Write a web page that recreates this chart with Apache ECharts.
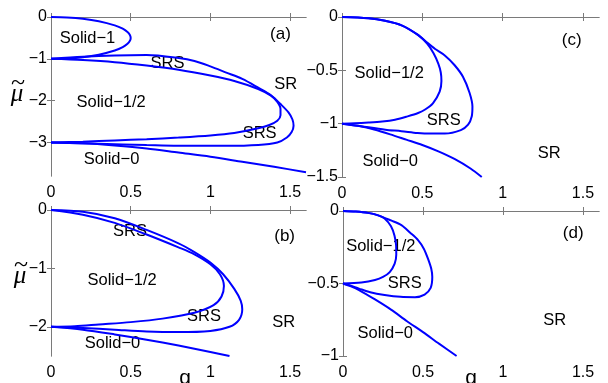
<!DOCTYPE html>
<html><head><meta charset="utf-8">
<script src="https://cdn.jsdelivr.net/npm/echarts@6/dist/echarts.min.js"></script>
<style>html,body{margin:0;padding:0;background:#fff}#c{width:608px;height:383px}</style>
</head><body><div id="c"></div>
<script>
// ---------- tick labels ----------
const xTicks = [0, 0.5, 1, 1.5];
const yTicksA = [0, -1, -2, -3];
const yTicksC = [0, -0.5, -1, -1.5];
const yTicksB = [0, -1, -2];
const yTicksD = [0, -0.5, -1];

// ---------- panel (a) : [g, mu] ----------
const aSolid1 = [[0,0],[0.1,-0.01],[0.2,-0.04],[0.3,-0.1],[0.4,-0.2],[0.45,-0.28],[0.48,-0.36],[0.495,-0.43],[0.5,-0.5],[0.495,-0.57],[0.48,-0.64],[0.45,-0.72],[0.4,-0.8],[0.3,-0.9],[0.2,-0.96],[0.1,-0.99],[0,-1]];
const aInner = [[0,-1],[0.2,-1.03],[0.4,-1.08],[0.6,-1.16],[0.8,-1.26],[1.0,-1.40],[1.15,-1.53],[1.3,-1.72],[1.38,-1.88],[1.42,-2.03],[1.44,-2.2],[1.44,-2.35],[1.42,-2.48],[1.37,-2.58],[1.3,-2.66],[1.15,-2.77],[1.0,-2.83],[0.8,-2.88],[0.6,-2.92],[0.4,-2.95],[0.2,-2.98],[0,-3]];
const aOuter = [[0,-1],[0.2,-0.95],[0.4,-0.92],[0.6,-0.91],[0.8,-0.98],[0.9,-1.05],[1.0,-1.18],[1.1,-1.33],[1.2,-1.48],[1.3,-1.69],[1.38,-1.87],[1.44,-2.08],[1.49,-2.28],[1.515,-2.45],[1.522,-2.6],[1.51,-2.75],[1.48,-2.88],[1.42,-3.0],[1.3,-3.06],[1.1,-3.08],[0.9,-3.08],[0.6,-3.06],[0.3,-3.03],[0,-3]];
const aSolid0 = [[0,-3],[0.2,-3.02],[0.4,-3.07],[0.6,-3.14],[0.8,-3.24],[1.0,-3.34],[1.2,-3.46],[1.4,-3.58],[1.6,-3.71]];

// ---------- panel (c) ----------
const cInner = [[0,0],[0.165,-0.012],[0.268,-0.035],[0.371,-0.078],[0.474,-0.17],[0.53,-0.25],[0.57,-0.34],[0.6,-0.44],[0.615,-0.52],[0.619,-0.6],[0.608,-0.7],[0.567,-0.807],[0.52,-0.865],[0.474,-0.9],[0.4,-0.935],[0.33,-0.963],[0.25,-0.98],[0.165,-0.99],[0.08,-0.997],[0,-1]];
const cOuter = [[0,0],[0.165,-0.012],[0.268,-0.035],[0.371,-0.078],[0.474,-0.168],[0.53,-0.24],[0.58,-0.3],[0.64,-0.36],[0.7,-0.45],[0.753,-0.56],[0.794,-0.71],[0.812,-0.84],[0.808,-0.93],[0.785,-1.01],[0.74,-1.06],[0.64,-1.093],[0.55,-1.093],[0.47,-1.087],[0.37,-1.07],[0.27,-1.056],[0.12,-1.025],[0,-1]];
const cSolid0 = [[0,-1],[0.1,-1.02],[0.2,-1.055],[0.3,-1.1],[0.4,-1.15],[0.5,-1.2],[0.6,-1.26],[0.7,-1.33],[0.8,-1.42],[0.87,-1.5]];

// ---------- panel (b) ----------
const bOuter = [[0,0],[0.2,-0.03],[0.4,-0.14],[0.6,-0.34],[0.8,-0.57],[0.9,-0.72],[1.0,-0.9],[1.08,-1.1],[1.15,-1.35],[1.19,-1.55],[1.2,-1.7],[1.18,-1.88],[1.12,-2.0],[1.0,-2.07],[0.8,-2.09],[0.6,-2.08],[0.4,-2.05],[0.2,-2.02],[0,-2]];
const bInner = [[0,0],[0.2,-0.08],[0.4,-0.22],[0.6,-0.42],[0.8,-0.64],[0.9,-0.76],[1.0,-0.93],[1.06,-1.1],[1.085,-1.3],[1.07,-1.48],[1.02,-1.63],[0.9,-1.76],[0.7,-1.86],[0.5,-1.92],[0.3,-1.96],[0.15,-1.99],[0,-2]];
const bSolid0 = [[0,-2],[0.2,-2.05],[0.4,-2.13],[0.6,-2.22],[0.8,-2.32],[1.0,-2.43],[1.12,-2.5]];

// ---------- panel (d) ----------
const dInner = [[0,0],[0.08,-0.004],[0.156,-0.013],[0.22,-0.03],[0.26,-0.051],[0.3,-0.105],[0.322,-0.17],[0.332,-0.24],[0.333,-0.3],[0.323,-0.363],[0.292,-0.421],[0.25,-0.455],[0.2,-0.476],[0.115,-0.493],[0,-0.5]];
const dOuter = [[0,0],[0.08,-0.004],[0.156,-0.013],[0.22,-0.03],[0.3,-0.065],[0.365,-0.097],[0.42,-0.15],[0.469,-0.201],[0.505,-0.26],[0.531,-0.329],[0.552,-0.4],[0.558,-0.456],[0.548,-0.53],[0.51,-0.576],[0.45,-0.594],[0.36,-0.592],[0.26,-0.579],[0.17,-0.56],[0.1,-0.535],[0.04,-0.512],[0,-0.5]];
const dSolid0 = [[0,-0.5],[0.05,-0.52],[0.1,-0.545],[0.2,-0.61],[0.3,-0.68],[0.4,-0.76],[0.5,-0.835],[0.6,-0.915],[0.71,-1.0]];

// ---------- region labels (text, panel, [g, mu]) ----------
const regionText = ['Solid\u22121','SRS','SR','Solid\u22121/2','SRS','Solid\u22120','(a)',
  'Solid\u22121/2','SRS','Solid\u22120','SR','(c)',
  'SRS','Solid\u22121/2','SRS','Solid\u22120','SR','(b)',
  'Solid\u22121/2','SRS','Solid\u22120','SR','(d)'];
const regionPanel = [0,0,0,0,0,0,0, 1,1,1,1,1, 2,2,2,2,2,2, 3,3,3,3,3];
const regionAt = [[0.229,-0.513],[0.731,-1.11],[1.472,-1.62],[0.377,-2.04],[1.309,-2.79],[0.38,-3.41],[1.44,-0.41],
  [0.294,-0.53],[0.633,-0.967],[0.30,-1.357],[1.29,-1.28],[1.43,-0.216],
  [0.496,-0.36],[0.446,-1.2],[0.96,-1.82],[0.386,-2.28],[1.46,-1.92],[1.466,-0.455],
  [0.236,-0.243],[0.386,-0.497],[0.264,-0.847],[1.323,-0.753],[1.439,-0.153]];

// ---------- layout ----------
const FONT = 'Liberation Sans, Arial, Helvetica, sans-serif';
const BLUE = '#0000ff';
const FRAME = '#7a7a7a';
const grids = [
  {left:51, top:17, width:255, height:159},
  {left:342, top:17, width:257, height:160},
  {left:51, top:210, width:255, height:146},
  {left:343, top:211, width:256, height:145}
];
const yRanges = [[-3.8,0],[-1.5,0],[-2.5,0],[-1,0]];
const yTickSets = [yTicksA, yTicksC, yTicksB, yTicksD];
const panelSeries = [[aSolid1,aInner,aOuter,aSolid0],[cInner,cOuter,cSolid0],[bOuter,bInner,bSolid0],[dInner,dOuter,dSolid0]];
const fmt = v => (v < 0 ? '\u2212' : '') + Math.abs(v);

const xAxis = [], yAxis = [], series = [];
grids.forEach((g, i) => {
  const line = {show:true, lineStyle:{color:FRAME, width:1}};
  const tick = {show:true, inside:true, length:4, lineStyle:{color:FRAME, width:1}};
  xAxis.push({type:'value', gridIndex:i, min:0, max:1.6, position:'bottom',
    axisLine:line, splitLine:{show:false},
    axisTick:Object.assign({customValues:xTicks}, tick),
    axisLabel:{customValues:xTicks, formatter:fmt, fontSize:16, color:'#000', fontFamily:FONT, margin:9, hideOverlap:false}});
  xAxis.push({type:'value', gridIndex:i, min:0, max:1.6, position:'top',
    axisLine:line, splitLine:{show:false},
    axisTick:Object.assign({customValues:xTicks}, tick), axisLabel:{show:false}});
  yAxis.push({type:'value', gridIndex:i, min:yRanges[i][0], max:yRanges[i][1], position:'left',
    axisLine:line, splitLine:{show:false},
    axisTick:Object.assign({customValues:yTickSets[i]}, tick),
    axisLabel:{customValues:yTickSets[i], formatter:fmt, fontSize:16, color:'#000', fontFamily:FONT, margin:4, hideOverlap:false}});
  yAxis.push({type:'value', gridIndex:i, min:yRanges[i][0], max:yRanges[i][1], position:'right',
    axisLine:line, splitLine:{show:false},
    axisTick:Object.assign({customValues:yTickSets[i]}, tick), axisLabel:{show:false}});
  panelSeries[i].forEach(d => series.push({type:'line', xAxisIndex:2*i, yAxisIndex:2*i, data:d,
    showSymbol:false, smooth:0.3, silent:true, animation:false,
    lineStyle:{color:BLUE, width:2}}));
});

const chart = echarts.init(document.getElementById('c'));
chart.setOption({animation:false, backgroundColor:'#fff', grid:grids, xAxis, yAxis, series});

const graphic = regionText.map((t, k) => {
  const p = regionPanel[k];
  const px = chart.convertToPixel({xAxisIndex:2*p, yAxisIndex:2*p}, regionAt[k]);
  return {type:'text', x:px[0], y:px[1], silent:true,
    style:{text:t, fill:'#000', font: (t[0]==='(' ? '17px ' : '16.5px ') + FONT, align:'center', verticalAlign:'middle'}};
});
// axis titles: mu with a tilde above
const SERIF = 'Liberation Serif, DejaVu Serif, serif';
[[17,94],[20,276]].forEach(pt => {
  graphic.push({type:'text', x:pt[0], y:pt[1], silent:true,
    style:{text:'\u03bc', fill:'#000', font:'italic 25px ' + SERIF, align:'center', verticalAlign:'middle'}});
  graphic.push({type:'text', x:pt[0] + 1, y:pt[1] - 11, silent:true,
    style:{text:'~', fill:'#000', font:'26px ' + SERIF, align:'center', verticalAlign:'middle'}});
});
[[185,378],[471,378]].forEach(pt => graphic.push({type:'text', x:pt[0], y:pt[1], silent:true,
  style:{text:'g', fill:'#000', font:'21px ' + FONT, align:'center', verticalAlign:'middle'}}));
chart.setOption({graphic});
</script></body></html>
